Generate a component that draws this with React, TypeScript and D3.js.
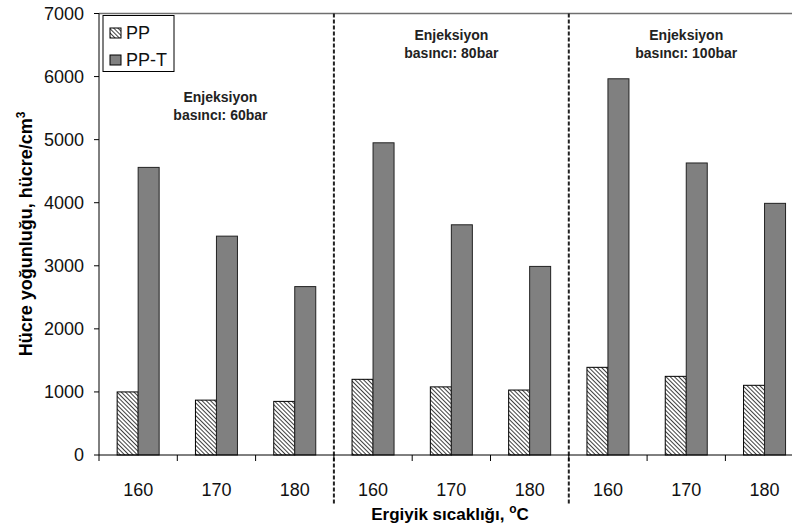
import React from "react";
import * as d3 from "d3";

const temps = ["160", "170", "180", "160", "170", "180", "160", "170", "180"];
const ppValues = [1000, 870, 850, 1200, 1080, 1030, 1390, 1247, 1105];
const pptValues = [4560, 3470, 2670, 4950, 3650, 2990, 5965, 4630, 3990];
const yTicks = [0, 1000, 2000, 3000, 4000, 5000, 6000, 7000];
const groupLabels = [
  { line1: "Enjeksiyon", line2: "basıncı: 60bar", idx: 1 },
  { line1: "Enjeksiyon", line2: "basıncı: 80bar", idx: 4 },
  { line1: "Enjeksiyon", line2: "basıncı: 100bar", idx: 7 },
];
const dividers = [3, 6];
const seriesNames = ["PP", "PP-T"];

export default function App() {
  const W = 792, H = 531;
  const left = 99, bottom = 455, top = 13.5;
  const step = 78.3;
  const x = d3.scaleBand<number>().domain(d3.range(temps.length)).range([left, left + step * temps.length]).padding(0);
  const y = d3.scaleLinear().domain([0, 7000]).range([bottom, top]);
  const barW = 21;
  const font = "'Liberation Sans', Arial, sans-serif";
  const bw = x.bandwidth();
  const ppX = (i: number) => (x(i) as number) + bw / 2 - barW;
  const ptX = (i: number) => (x(i) as number) + bw / 2;

  return (
    <svg width={W} height={H} style={{ position: "absolute", left: 0, top: 0, background: "#fff" }} fontFamily={font}>
      <defs>
        <pattern id="hatch" patternUnits="userSpaceOnUse" width="3" height="3" patternTransform="rotate(-45)">
          <rect width="3" height="3" fill="#fff" />
          <line x1="0" y1="0" x2="0" y2="3" stroke="#000" strokeWidth="1.5" />
        </pattern>
      </defs>
      <rect width={W} height={H} fill="#fff" />
      <line x1={left} x2={W} y1={top} y2={top} stroke="#6f6f6f" strokeWidth={1.5} />
      {ppValues.map((v, i) => (
        <rect key={"pp" + i} x={ppX(i)} y={y(v)} width={barW} height={bottom - y(v)} fill="url(#hatch)" stroke="#000" strokeWidth={1} />
      ))}
      {pptValues.map((v, i) => (
        <rect key={"pt" + i} x={ptX(i)} y={y(v)} width={barW} height={bottom - y(v)} fill="#808080" stroke="#222" strokeWidth={1} />
      ))}
      {dividers.map((d) => (
        <line key={d} x1={x(d) as number} x2={x(d) as number} y1={top} y2={505} stroke="#222" strokeWidth={2} strokeDasharray="4,2" />
      ))}
      <line x1={left} x2={left} y1={top} y2={bottom} stroke="#000" strokeWidth={1} />
      <line x1={left} x2={W} y1={bottom} y2={bottom} stroke="#000" strokeWidth={1} />
      {yTicks.map((t) => (
        <g key={t}>
          <line x1={left - 5} x2={left} y1={y(t)} y2={y(t)} stroke="#000" />
          <text x={84} y={y(t)} dy="0.35em" textAnchor="end" fontSize={18} fill="#111">{t}</text>
        </g>
      ))}
      {d3.range(temps.length + 1).map((i) => (
        <line key={"xt" + i} x1={left + i * step} x2={left + i * step} y1={bottom} y2={bottom + 6} stroke="#000" />
      ))}
      {temps.map((t, i) => (
        <text key={"xl" + i} x={(x(i) as number) + bw / 2} y={496} textAnchor="middle" fontSize={18} fill="#111">{t}</text>
      ))}
      {groupLabels.map((g, k) => {
        const cx = (x(g.idx) as number) + bw / 2 + (k === 0 ? 4 : 0);
        const y1 = k === 0 ? 102 : 40;
        return (
          <g key={k} fontWeight="bold" fontSize={14} fill="#222" textAnchor="middle">
            <text x={cx} y={y1}>{g.line1}</text>
            <text x={cx} y={y1 + 18}>{g.line2}</text>
          </g>
        );
      })}
      <rect x={103} y={15.5} width={71} height={56} fill="#fff" stroke="#000" strokeWidth={1} />
      <rect x={110} y={28} width={11} height={10} fill="url(#hatch)" stroke="#000" strokeWidth={1} />
      <text x={126} y={39} fontSize={18} fill="#111">{seriesNames[0]}</text>
      <rect x={110} y={55} width={11} height={10} fill="#808080" stroke="#000" strokeWidth={1} />
      <text x={126} y={66} fontSize={18} fill="#111">{seriesNames[1]}</text>
      <text x={450} y={520} textAnchor="middle" fontSize={17} fontWeight="bold" fill="#000">
        Ergiyik sıcaklığı, <tspan dy={-7} fontSize={12}>o</tspan><tspan dy={7}>C</tspan>
      </text>
      <text transform="translate(32,234) rotate(-90)" textAnchor="middle" fontSize={18} fontWeight="bold" fill="#000">
        Hücre yoğunluğu, hücre/cm<tspan dy={-7} fontSize={12}>3</tspan>
      </text>
    </svg>
  );
}
